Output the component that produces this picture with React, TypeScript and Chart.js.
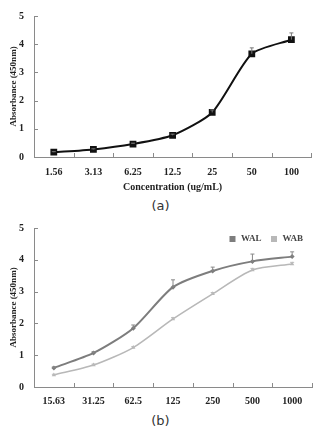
import React, { useEffect, useRef } from "react";
import { Chart, registerables } from "chart.js";

Chart.register(...registerables);

// Panel (a): single series absorbance vs. concentration
const concA = ["1.56", "3.13", "6.25", "12.5", "25", "50", "100"];
const absA = [0.17, 0.27, 0.46, 0.77, 1.58, 3.66, 4.16];
const errA = [0.02, 0.02, 0.03, 0.04, 0.09, 0.21, 0.24];

// Panel (b): WAL and WAB series
const concB = ["15.63", "31.25", "62.5", "125", "250", "500", "1000"];
const walB = [0.6, 1.07, 1.85, 3.14, 3.65, 3.95, 4.1];
const wabB = [0.38, 0.69, 1.24, 2.14, 2.93, 3.68, 3.87];
const errWal = [0.03, 0.04, 0.1, 0.23, 0.12, 0.23, 0.15];
const errWab = [0.02, 0.03, 0.03, 0.04, 0.04, 0.05, 0.05];

const yTicks = [0, 1, 2, 3, 4, 5];

const AXIS = "#8a8a8a";
const TEXT = "#222";
const SERIF = "'Liberation Serif', 'Times New Roman', serif";

// Upper-only error bars with a small cap, taken from dataset.errors
const errorBars = {
  id: "errorBars",
  afterDatasetsDraw(chart: any) {
    const { ctx } = chart;
    const y = chart.scales.y;
    chart.data.datasets.forEach((ds: any, di: number) => {
      if (!ds.errors) return;
      const meta = chart.getDatasetMeta(di);
      ctx.save();
      ctx.strokeStyle = ds.errorColor || AXIS;
      ctx.lineWidth = 1;
      meta.data.forEach((pt: any, i: number) => {
        const v = ds.data[i];
        const top = y.getPixelForValue(v + ds.errors[i]);
        const x = pt.x;
        const py = y.getPixelForValue(v);
        ctx.beginPath();
        ctx.moveTo(x, py);
        ctx.lineTo(x, top);
        ctx.moveTo(x - 2, top);
        ctx.lineTo(x + 2, top);
        ctx.stroke();
      });
      ctx.restore();
    });
  },
};

// Tick marks pointing into the plot area
const innerTicks = {
  id: "innerTicks",
  afterDraw(chart: any) {
    const { ctx } = chart;
    const x = chart.scales.x;
    const y = chart.scales.y;
    ctx.save();
    ctx.strokeStyle = AXIS;
    ctx.lineWidth = 1;
    ctx.beginPath();
    y.ticks.forEach((t: any) => {
      const py = Math.round(y.getPixelForValue(t.value)) + 0.5;
      ctx.moveTo(y.right, py);
      ctx.lineTo(y.right + 4, py);
    });
    const n = x.ticks.length;
    for (let i = 1; i <= n; i++) {
      const px = Math.round(x.left + (i * (x.right - x.left)) / n) + 0.5;
      ctx.moveTo(px, x.top);
      ctx.lineTo(px, x.top - 4);
    }
    ctx.stroke();
    ctx.restore();
  },
};

// Horizontal legend in the top-right corner of the plot area
const cornerLegend = {
  id: "cornerLegend",
  afterDraw(chart: any) {
    const { ctx, chartArea } = chart;
    const box = 6;
    const gap = 5.5;
    const itemGap = 9.5;
    ctx.save();
    ctx.font = `bold 9px ${SERIF}`;
    const items = chart.data.datasets.map((ds: any) => ({
      label: ds.label,
      color: ds.backgroundColor,
      w: ctx.measureText(ds.label).width,
    }));
    const total =
      items.reduce((s: number, it: any) => s + box + gap + it.w, 0) + itemGap * (items.length - 1);
    let x = chartArea.right - 9 - total;
    const cy = chartArea.top + 11;
    ctx.textBaseline = "middle";
    items.forEach((it: any) => {
      ctx.fillStyle = it.color;
      ctx.fillRect(x, cy - box / 2, box, box);
      x += box + gap;
      ctx.fillStyle = "#444";
      ctx.fillText(it.label, x, cy);
      x += it.w + itemGap;
    });
    ctx.restore();
  },
};

function makeOptions(opts: { topPad: number; xHeight: number; xPad: number; xTitle?: string }) {
  return {
    animation: false,
    responsive: false,
    maintainAspectRatio: false,
    layout: { padding: { top: opts.topPad, right: 1, left: 0, bottom: 0 } },
    plugins: {
      tooltip: { enabled: false },
      legend: { display: false },
    },
    scales: {
      x: {
        type: "category",
        offset: true,
        afterFit: (s: any) => {
          s.height = opts.xHeight;
        },
        grid: { display: true, drawOnChartArea: false, drawTicks: false, offset: true },
        border: { color: AXIS, width: 1 },
        ticks: {
          color: TEXT,
          padding: opts.xPad,
          maxRotation: 0,
          font: { family: SERIF, size: 10, weight: "bold" },
        },
        title: opts.xTitle
          ? {
              display: true,
              text: opts.xTitle,
              color: TEXT,
              padding: { top: 0, bottom: 3 },
              font: { family: SERIF, size: 10, weight: "bold" },
            }
          : { display: false },
      },
      y: {
        min: 0,
        max: 5,
        afterFit: (s: any) => {
          s.width = 34;
        },
        afterBuildTicks: (s: any) => {
          s.ticks = yTicks.map((v) => ({ value: v }));
        },
        grid: { display: true, drawOnChartArea: false, drawTicks: false },
        border: { color: AXIS, width: 1 },
        ticks: {
          color: TEXT,
          padding: 10,
          font: { family: SERIF, size: 10, weight: "bold" },
        },
        title: {
          display: true,
          text: "Absorbance (450nm)",
          color: TEXT,
          padding: { top: 8, bottom: 0 },
          font: { family: SERIF, size: 9, weight: "bold" },
        },
      },
    },
  };
}

function PanelA() {
  const ref = useRef<HTMLCanvasElement>(null);
  useEffect(() => {
    const chart = new Chart(ref.current as HTMLCanvasElement, {
      type: "line",
      data: {
        labels: concA,
        datasets: [
          {
            label: "Absorbance",
            data: absA,
            errors: errA,
            errorColor: "#777",
            borderColor: "#111",
            backgroundColor: "#111",
            borderWidth: 2,
            tension: 0.22,
            pointStyle: "rect",
            pointRadius: 4.8,
            pointBorderWidth: 0,
          } as any,
        ],
      },
      options: makeOptions({
        topPad: 7,
        xHeight: 39,
        xPad: 9,
        xTitle: "Concentration (ug/mL)",
      }) as any,
      plugins: [errorBars, innerTicks],
    });
    return () => chart.destroy();
  }, []);
  return <canvas ref={ref} width={316} height={196} style={{ position: "absolute", left: 0, top: 0 }} />;
}

function PanelB() {
  const ref = useRef<HTMLCanvasElement>(null);
  useEffect(() => {
    const chart = new Chart(ref.current as HTMLCanvasElement, {
      type: "line",
      data: {
        labels: concB,
        datasets: [
          {
            label: "WAL",
            data: walB,
            errors: errWal,
            errorColor: "#888",
            borderColor: "#7d7d7d",
            backgroundColor: "#7d7d7d",
            borderWidth: 2,
            tension: 0.25,
            pointStyle: "rectRot",
            pointRadius: 2.5,
            pointBorderWidth: 0,
          } as any,
          {
            label: "WAB",
            data: wabB,
            errors: errWab,
            errorColor: "#bbb",
            borderColor: "#b8b8b8",
            backgroundColor: "#b8b8b8",
            borderWidth: 1.6,
            tension: 0.25,
            pointStyle: "triangle",
            pointRadius: 2.5,
            pointBorderWidth: 0,
          } as any,
        ],
      },
      options: makeOptions({ topPad: 10, xHeight: 23, xPad: 8 }) as any,
      plugins: [errorBars, innerTicks, cornerLegend],
    });
    return () => chart.destroy();
  }, []);
  return <canvas ref={ref} width={316} height={198} style={{ position: "absolute", left: 0, top: 212 }} />;
}

const captionStyle: React.CSSProperties = {
  position: "absolute",
  left: 0,
  width: 321,
  textAlign: "center",
  fontFamily: "'DejaVu Sans', sans-serif",
  fontSize: 13,
  lineHeight: "14px",
  color: "#333",
};

export default function App() {
  return (
    <div
      style={{
        position: "absolute",
        left: 0,
        top: 0,
        width: 316,
        height: 430,
        background: "#fff",
        overflow: "hidden",
      }}
    >
      <PanelA />
      <div style={{ ...captionStyle, top: 199 }}>(a)</div>
      <PanelB />
      <div style={{ ...captionStyle, top: 414 }}>(b)</div>
    </div>
  );
}
